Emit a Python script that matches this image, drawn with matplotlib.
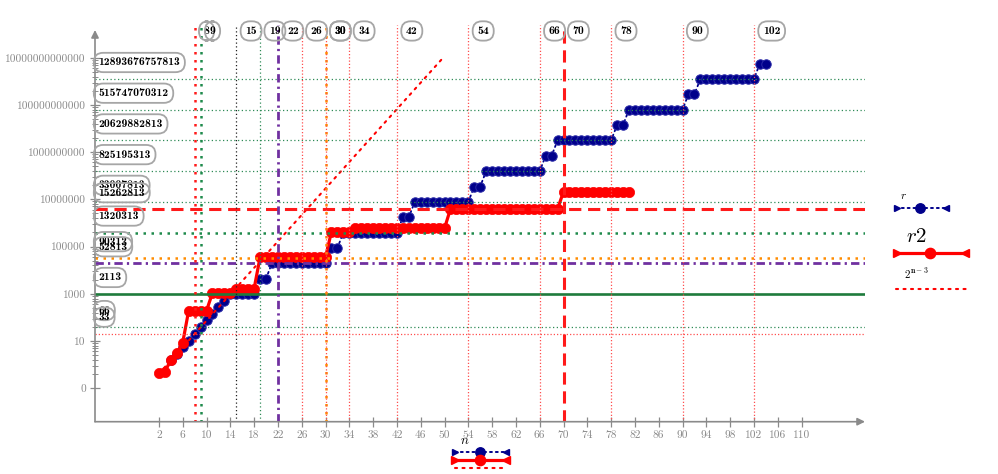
import matplotlib
matplotlib.use("Agg")
import math
import matplotlib.pyplot as plt
from matplotlib.lines import Line2D

plt.rcParams['mathtext.fontset'] = 'cm'

# ---------------- data ----------------
n_r = list(range(4, 105))
r_values = ([2, 4, 8, 16, 33, 66, 132, 264, 528, 1056]
            + [2113] * 5 + [10600] * 2
            + [52813] * 10 + [264000] * 2
            + [1320313] * 10 + [6600000] * 2
            + [33007813] * 10 + [165000000] * 2
            + [825195313] * 10 + [4130000000] * 2
            + [20629882813] * 10 + [103000000000] * 2
            + [515747070312] * 10 + [2580000000000] * 2
            + [12893676757813] * 10 + [64500000000000] * 2)

n_r2 = list(range(2, 82))
r2_values = ([0.55, 0.6, 2.1, 4.2, 12.8] + [367] * 4 + [2350] * 4 + [3700] * 4
             + [98000] * 12 + [1450000] * 4 + [2070000] * 16
             + [15600000] * 19 + [96000000] * 12)

n_pow = [2, 49.5]                      # extent of the 2^(n-3) trace
pow_values = [2.0 ** (v - 3) for v in n_pow]

hline_values = [12893676757813, 515747070312, 20629882813, 825195313,
                33007813, 15262813, 1320313, 90313, 52813, 2113, 66, 33]
hline_kinds = ['gdot', 'gdot', 'gdot', 'gdot', 'gdot', 'rdash', 'gdot2',
               'odot', 'pdd', 'gsolid', 'gdot', 'rdot']

vline_values = [8, 9, 15, 19, 22, 26, 30, 30, 34, 42, 54, 66, 70, 78, 90, 102]
vline_kinds = ['rdot2', 'gdot2', 'kdot', 'gdot', 'pdd', 'rdot', 'odot', 'rdot',
               'rdot', 'rdot', 'rdot', 'rdot', 'rdash', 'rdot', 'rdot', 'rdot']

xticks = list(range(2, 111, 4))
ytick_labels = ['0', '10', '1000', '100000', '10000000', '1000000000',
                '100000000000', '10000000000000']
ytick_log = [-0.954, 1.185, 3.325, 5.487, 7.649, 9.788, 11.927, 14.066]

# ---------------- styles ----------------
STY = {
    'gdot':   dict(color='#2e8b57', lw=0.9, ls=(0, (1, 2))),
    'gdot2':  dict(color='#1f8a4c', lw=1.8, ls=(0, (1, 2.2))),
    'rdash':  dict(color='#ff1a1a', lw=2.2, ls=(0, (4, 2.2))),
    'odot':   dict(color='#ff8c00', lw=1.8, ls=(0, (1, 2.2))),
    'pdd':    dict(color='#7030a0', lw=2.0, ls=(0, (3, 1.5, 0.8, 1.5))),
    'gsolid': dict(color='#1e7b3c', lw=1.9, ls='-'),
    'rdot':   dict(color='#ff4f4f', lw=0.9, ls=(0, (1, 1.6))),
    'rdot2':  dict(color='#ff1a1a', lw=1.8, ls=(0, (1, 2.2))),
    'kdot':   dict(color='#222222', lw=0.9, ls=(0, (1, 2))),
}
NAVY = '#00008b'
RED = '#ff0000'
GRAY = '#8a8a8a'

W, H = 998, 474
fig = plt.figure(figsize=(W / 100, H / 100), dpi=100)

x_left_px, x_right_px = 95, 865
y_top_px, y_bot_px = 25, 421.7
ax = fig.add_axes([x_left_px / W, 1 - y_bot_px / H,
                   (x_right_px - x_left_px) / W, (y_bot_px - y_top_px) / H])

px_per_n = 5.95
n0_px = 147.0
ax.set_xlim((x_left_px - n0_px) / px_per_n, (x_right_px - n0_px) / px_per_n)
ax.set_yscale('log')
px_per_dec = 21.97
y1_px = 367.05
ax.set_ylim(10 ** ((y1_px - y_bot_px) / px_per_dec), 10 ** ((y1_px - y_top_px) / px_per_dec))

for s in ax.spines.values():
    s.set_visible(False)

# traces
ax.plot(n_r, r_values, color=NAVY, lw=1.3, ls=(0, (1, 2)), dash_capstyle='round',
        marker='o', ms=6.8, mfc=NAVY, mec='#2a2aa8', mew=0.7, zorder=3)
ax.plot(n_r2, r2_values, color=RED, lw=2.3, ls='-',
        marker='o', ms=7.4, mfc=RED, mec=RED, mew=0.5, zorder=4)
ax.plot(n_pow, pow_values, color=RED, lw=1.5, ls=(0, (1, 2.6)), dash_capstyle='round',
        zorder=4)

# markers (on top)
for v, k in zip(hline_values, hline_kinds):
    st = STY[k]
    ax.axhline(v, color=st['color'], lw=st['lw'], ls=st['ls'], zorder=5)
for v, k in zip(vline_values, vline_kinds):
    st = STY[k]
    ax.axvline(v, color=st['color'], lw=st['lw'], ls=st['ls'], zorder=5)

# boxes (transparent, like the reference)
box = dict(boxstyle='round,pad=0.4,rounding_size=0.8', fc='none', ec='#a6a6a6', lw=1.3)
for v in hline_values:
    ax.annotate(str(v), xy=(0, v), xycoords=('axes fraction', 'data'),
                xytext=(2.5, 11.9), textcoords='offset points', ha='left', va='center',
                fontsize=8.4, family='cmb10', color='black', bbox=box, zorder=7,
                annotation_clip=False)
for v in vline_values:
    ax.annotate(str(v), xy=(v, 1), xycoords=('data', 'axes fraction'),
                xytext=(6.5, -4.3), textcoords='offset points', ha='left', va='center',
                fontsize=8.4, family='cmb10', color='black', bbox=box, zorder=7,
                annotation_clip=False)

# axes with arrows
arr = dict(arrowstyle='-|>', color=GRAY, lw=1.2, mutation_scale=11, shrinkA=0, shrinkB=0)
ax.annotate('', xy=(1, 0), xytext=(0, 0), xycoords='axes fraction', arrowprops=arr, zorder=6)
ax.annotate('', xy=(0, (y_bot_px - 30) / (y_bot_px - y_top_px)), xytext=(0, 0),
            xycoords='axes fraction', arrowprops=arr, zorder=6)

# ticks
ax.set_xticks(xticks)
ax.set_xticklabels([str(t) for t in xticks], family='cmr10', fontsize=8.2, color=GRAY)
ax.set_yticks([10 ** v for v in ytick_log])
ax.set_yticklabels(ytick_labels, family='cmr10', fontsize=8.2, color=GRAY)
minor = []
for a, b in zip(ytick_log[:-1], ytick_log[1:]):
    for k in range(2, 10):
        minor.append(10 ** (a + (b - a) * math.log10(k)))
ax.set_yticks(minor, minor=True)
ax.xaxis.set_minor_locator(matplotlib.ticker.NullLocator())
ax.tick_params(axis='both', which='major', direction='inout', length=7, width=0.9,
               color=GRAY, pad=3)
ax.tick_params(axis='y', which='minor', direction='inout', length=5, width=0.7,
               color=GRAY, labelleft=False)

# legend (right)
def fig_line(x0, x1, y, **kw):
    fig.add_artist(Line2D([x0 / W, x1 / W], [1 - y / H, 1 - y / H],
                          transform=fig.transFigure, **kw))

def fig_pt(x, y, **kw):
    fig.add_artist(Line2D([x / W], [1 - y / H], transform=fig.transFigure, **kw))

fig.text(903 / W, 1 - 196 / H, r'$\mathbf{\mathit{r}}$', fontsize=8, ha='center', va='center')
fig_line(896, 947, 208.3, color=NAVY, lw=1.4, ls=(0, (1, 2)), dash_capstyle='round')
fig_pt(920, 208.3, marker='o', ms=6.8, color=NAVY)
fig_pt(897, 208.3, marker='>', ms=5, color=NAVY)
fig_pt(946, 208.3, marker='<', ms=5, color=NAVY)

fig.text(916 / W, 1 - 236 / H, r'$r2$', fontsize=15, ha='center', va='center')
fig_line(896, 966, 253.3, color=RED, lw=2.3)
fig_pt(930, 253.3, marker='o', ms=7.4, color=RED)
fig_pt(897, 253.3, marker='>', ms=5.5, color=RED)
fig_pt(965, 253.3, marker='<', ms=5.5, color=RED)

fig.text(916 / W, 1 - 274 / H, r'$\mathbf{2^{n-3}}$', fontsize=8, ha='center', va='center')
fig_line(896, 967, 289.3, color=RED, lw=1.5, ls=(0, (1, 2.6)), dash_capstyle='round')

# legend (bottom, under x axis)
fig.text(465 / W, 1 - 441 / H, r'$n$', fontsize=9.5, ha='center', va='center')
fig_line(455, 506, 451.7, color=NAVY, lw=1.4, ls=(0, (1, 2)), dash_capstyle='round')
fig_pt(480, 451.7, marker='o', ms=6.8, color=NAVY)
fig_pt(455, 451.7, marker='>', ms=5, color=NAVY)
fig_pt(506, 451.7, marker='<', ms=5, color=NAVY)
fig_line(455, 506, 460, color=RED, lw=2.3)
fig_pt(480, 460, marker='o', ms=7.4, color=RED)
fig_pt(455, 460, marker='>', ms=5.5, color=RED)
fig_pt(506, 460, marker='<', ms=5.5, color=RED)
fig_line(455, 504, 467.7, color=RED, lw=1.5, ls=(0, (1, 2.6)), dash_capstyle='round')

fig.savefig('out.png', dpi=100)
